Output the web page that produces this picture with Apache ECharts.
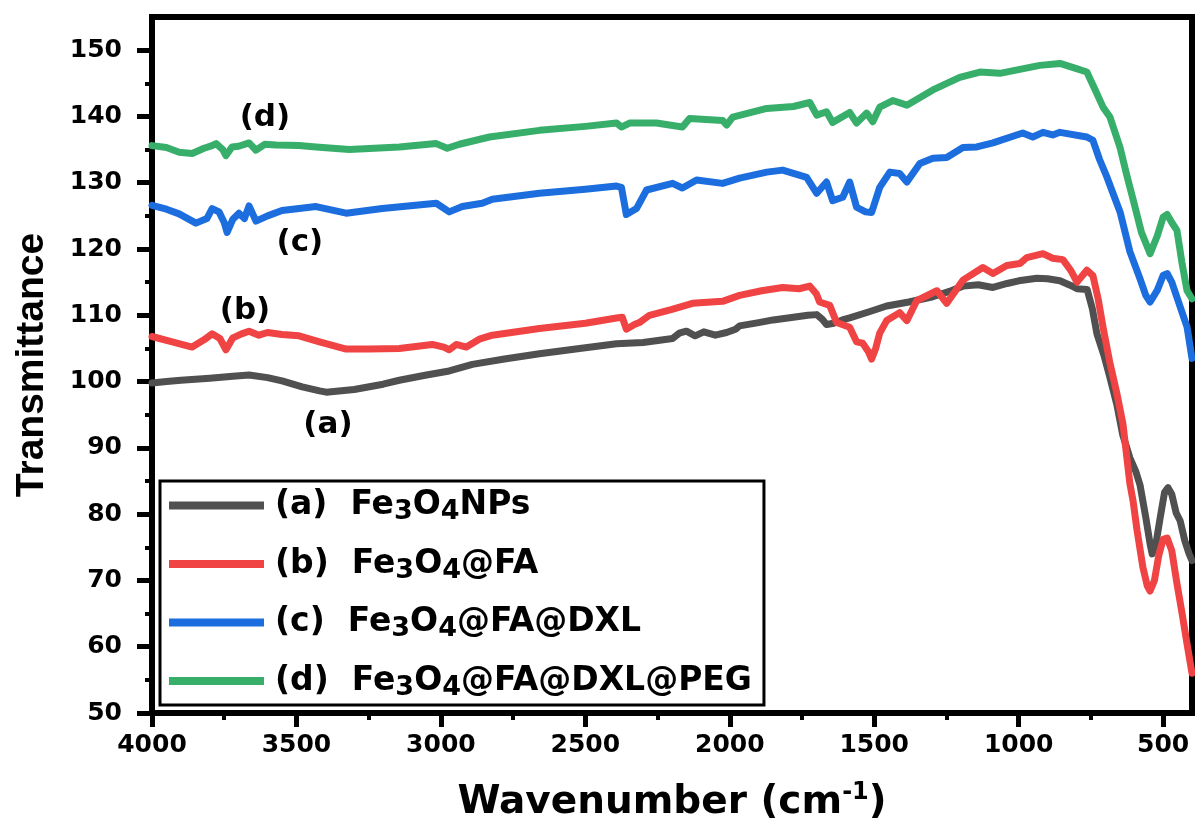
<!DOCTYPE html>
<html>
<head>
<meta charset="utf-8">
<script src="https://cdn.jsdelivr.net/npm/echarts@6/dist/echarts.min.js"></script>
<style>
  html, body { margin: 0; padding: 0; background: #fff; }
  #chart { width: 1195px; height: 831px; }
</style>
</head>
<body>
<div id="chart"></div>
<script>
// FTIR spectra: [wavenumber (cm-1), transmittance]
const fe3o4NPs = [
  [4000, 99.8], [3950, 100.0], [3900, 100.2], [3800, 100.5], [3720, 100.8], [3664, 101.0],
  [3600, 100.6], [3550, 100.1], [3480, 99.2], [3420, 98.6], [3397, 98.4], [3300, 98.8],
  [3200, 99.6], [3144, 100.2], [3050, 101.0], [2971, 101.6], [2891, 102.6], [2780, 103.4],
  [2659, 104.2], [2520, 105.0], [2392, 105.7], [2300, 105.9], [2198, 106.5], [2175, 107.3],
  [2150, 107.6], [2120, 106.9], [2090, 107.5], [2050, 107.0], [2011, 107.4], [1980, 107.9],
  [1966, 108.4], [1900, 108.9], [1850, 109.3], [1780, 109.7], [1730, 110.0], [1699, 110.1],
  [1680, 109.4], [1665, 108.6], [1640, 108.8], [1610, 109.3], [1585, 109.6], [1520, 110.5],
  [1457, 111.4], [1380, 112.0], [1297, 112.8], [1240, 113.6], [1193, 114.4], [1140, 114.6],
  [1089, 114.2], [1040, 114.8], [1000, 115.2], [937, 115.6], [900, 115.5], [857, 115.2],
  [820, 114.5], [798, 114.0], [763, 113.9], [745, 111.0], [729, 107.2], [705, 104.0],
  [684, 100.6], [660, 96.5], [640, 92.0], [615, 88.5], [595, 86.5], [580, 84.4],
  [560, 79.5], [545, 75.5], [538, 74.0], [525, 75.5], [510, 79.5], [495, 83.3],
  [483, 84.0], [470, 83.0], [455, 80.2], [441, 79.0], [425, 76.0], [410, 74.0], [400, 73.0]
];

const fe3o4FA = [
  [4000, 106.8], [3930, 106.0], [3861, 105.2], [3820, 106.3], [3792, 107.2], [3765, 106.5],
  [3744, 104.8], [3720, 106.6], [3690, 107.2], [3664, 107.6], [3630, 107.0], [3600, 107.4],
  [3550, 107.1], [3491, 106.9], [3420, 106.0], [3328, 104.9], [3250, 104.9], [3144, 105.0],
  [3030, 105.6], [2990, 105.2], [2971, 104.8], [2947, 105.6], [2912, 105.2], [2867, 106.4],
  [2822, 107.0], [2659, 108.0], [2500, 108.8], [2392, 109.6], [2372, 109.7], [2358, 107.9],
  [2330, 108.6], [2313, 108.9], [2278, 110.0], [2200, 110.9], [2129, 111.8], [2025, 112.1],
  [1966, 113.0], [1890, 113.7], [1817, 114.2], [1760, 114.0], [1723, 114.4], [1700, 113.2],
  [1689, 112.0], [1654, 111.5], [1630, 108.9], [1585, 108.2], [1561, 106.0], [1540, 105.8],
  [1520, 104.5], [1509, 103.4], [1495, 105.0], [1481, 107.3], [1457, 109.2], [1412, 110.4],
  [1387, 109.2], [1353, 112.2], [1283, 113.7], [1249, 111.8], [1193, 115.3], [1124, 117.2],
  [1089, 116.3], [1041, 117.5], [996, 117.8], [972, 118.7], [916, 119.3], [882, 118.6],
  [847, 118.4], [820, 116.8], [798, 115.0], [764, 116.8], [743, 116.0], [725, 112.5],
  [708, 108.2], [685, 103.0], [660, 98.2], [639, 93.6], [615, 84.6], [604, 82.0],
  [590, 77.5], [570, 72.0], [555, 69.2], [545, 68.4], [530, 70.0], [515, 73.8],
  [500, 76.2], [486, 76.4], [470, 74.5], [452, 69.5], [435, 65.2], [417, 60.4], [400, 56.0]
];

const fe3o4FADXL = [
  [4000, 126.6], [3950, 126.0], [3906, 125.3], [3848, 123.9], [3810, 124.6], [3792, 126.1],
  [3768, 125.6], [3750, 124.0], [3740, 122.5], [3720, 124.5], [3699, 125.4], [3680, 124.6],
  [3664, 126.5], [3640, 124.2], [3600, 125.0], [3550, 125.8], [3432, 126.4], [3328, 125.4],
  [3203, 126.1], [3016, 126.9], [2971, 125.6], [2926, 126.4], [2857, 126.9], [2822, 127.5],
  [2659, 128.4], [2500, 129.0], [2392, 129.5], [2375, 129.3], [2358, 125.2], [2323, 126.1],
  [2288, 128.9], [2198, 129.9], [2164, 129.2], [2115, 130.4], [2025, 129.9], [1966, 130.7],
  [1872, 131.6], [1817, 131.9], [1734, 130.8], [1699, 128.4], [1665, 130.1], [1644, 127.3],
  [1609, 127.8], [1585, 130.1], [1561, 126.3], [1530, 125.6], [1509, 125.5], [1481, 129.3],
  [1446, 131.6], [1412, 131.4], [1387, 130.1], [1342, 132.9], [1297, 133.7], [1249, 133.8],
  [1193, 135.3], [1145, 135.4], [1089, 136.0], [986, 137.5], [951, 136.9], [916, 137.6],
  [882, 137.2], [857, 137.6], [764, 136.9], [743, 136.4], [720, 133.5], [694, 130.8],
  [670, 128.0], [649, 125.6], [615, 119.6], [580, 115.5], [560, 113.0], [545, 112.0],
  [520, 113.8], [500, 116.0], [486, 116.3], [470, 115.0], [452, 112.7], [435, 110.5],
  [417, 108.2], [400, 103.5]
];

const fe3o4FADXLPEG = [
  [4000, 135.6], [3950, 135.3], [3906, 134.6], [3861, 134.4], [3820, 135.2], [3792, 135.6],
  [3778, 135.9], [3755, 135.0], [3744, 134.1], [3723, 135.4], [3700, 135.5], [3664, 136.0],
  [3640, 134.9], [3610, 135.8], [3570, 135.7], [3491, 135.6], [3432, 135.4], [3317, 135.0],
  [3144, 135.4], [3016, 135.9], [2978, 135.2], [2936, 135.8], [2832, 136.9], [2659, 137.9],
  [2500, 138.5], [2392, 139.0], [2375, 138.4], [2347, 139.0], [2254, 139.0], [2164, 138.4],
  [2139, 139.7], [2025, 139.4], [2011, 138.7], [1990, 139.9], [1872, 141.2], [1780, 141.5],
  [1723, 142.1], [1699, 140.2], [1665, 140.7], [1644, 139.1], [1585, 140.6], [1561, 139.0],
  [1526, 140.5], [1505, 139.2], [1481, 141.4], [1436, 142.4], [1387, 141.7], [1297, 144.0],
  [1204, 145.9], [1134, 146.7], [1065, 146.5], [927, 147.7], [857, 148.0], [800, 147.2],
  [764, 146.7], [735, 144.0], [708, 141.4], [684, 139.9], [649, 135.3], [625, 131.0],
  [604, 127.5], [575, 122.5], [545, 119.3], [520, 122.0], [500, 124.8], [486, 125.2],
  [470, 124.0], [452, 122.8], [435, 118.0], [417, 113.7], [400, 112.5]
];

const seriesNames = ['(a) Fe3O4NPs', '(b) Fe3O4@FA', '(c) Fe3O4@FA@DXL', '(d) Fe3O4@FA@DXL@PEG'];
const legendRich = [
  '{t|(a)  Fe}{s|3}{t|O}{s|4}{t|NPs}',
  '{t|(b)  Fe}{s|3}{t|O}{s|4}{t|@FA}',
  '{t|(c)  Fe}{s|3}{t|O}{s|4}{t|@FA@DXL}',
  '{t|(d)  Fe}{s|3}{t|O}{s|4}{t|@FA@DXL@PEG}'
];
const seriesColors = ['#505050', '#F04343', '#1C6EDE', '#38AE6B'];
const seriesData = [fe3o4NPs, fe3o4FA, fe3o4FADXL, fe3o4FADXLPEG];

// curve tags placed in data space: [wavenumber, transmittance]
const curveTags = [
  { text: '(a)', at: [3391, 93.4] },
  { text: '(b)', at: [3678, 110.6] },
  { text: '(c)', at: [3488, 120.9] },
  { text: '(d)', at: [3609, 139.7] }
];

const xMajorTicks = [4000, 3500, 3000, 2500, 2000, 1500, 1000, 500];
const xMinorTicks = [3750, 3250, 2750, 2250, 1750, 1250, 750];
const yMajorTicks = [50, 60, 70, 80, 90, 100, 110, 120, 130, 140, 150];
const yMinorTicks = [55, 65, 75, 85, 95, 105, 115, 125, 135, 145];

const tickFont = { fontFamily: 'DejaVu Sans', fontWeight: 'bold', fontSize: 25, color: '#000' };

const chart = echarts.init(document.getElementById('chart'), null, { renderer: 'canvas' });

const series = seriesData.map((d, i) => ({
  name: seriesNames[i],
  type: 'line',
  xAxisIndex: 0,
  yAxisIndex: 0,
  data: d,
  showSymbol: false,
  symbol: 'none',
  color: seriesColors[i],
  lineStyle: { width: 7, color: seriesColors[i], cap: 'round', join: 'round' },
  z: 2 + i,
  markPoint: {
    symbol: 'circle',
    symbolSize: 0,
    silent: true,
    label: {
      show: true,
      position: 'inside',
      formatter: curveTags[i].text,
      color: '#000',
      fontFamily: 'DejaVu Sans',
      fontWeight: 'bold',
      fontSize: 31
    },
    data: [{ coord: curveTags[i].at }]
  }
}));

chart.setOption({
  animation: false,
  backgroundColor: '#fff',
  grid: {
    left: 152, right: 3, top: 17, bottom: 118,
    show: true, borderColor: '#000', borderWidth: 6, backgroundColor: 'transparent'
  },
  legend: {
    orient: 'vertical',
    left: 160,
    top: 481,
    data: seriesNames,
    icon: 'rect',
    itemWidth: 95,
    itemHeight: 8,
    itemGap: 22,
    padding: [8, 12, 4, 9],
    borderColor: '#000',
    borderWidth: 3,
    backgroundColor: '#fff',
    selectedMode: false,
    formatter: name => legendRich[seriesNames.indexOf(name)],
    textStyle: {
      padding: [0, 0, 0, 6],
      rich: {
        t: { fontFamily: 'DejaVu Sans', fontWeight: 'bold', fontSize: 33, color: '#000', lineHeight: 40, verticalAlign: 'middle' },
        s: { fontFamily: 'DejaVu Sans', fontWeight: 'bold', fontSize: 27, color: '#000', lineHeight: 24, verticalAlign: 'bottom' }
      }
    }
  },
  xAxis: [
    {
      type: 'value', min: 400, max: 4000, inverse: true, position: 'bottom',
      name: '{t|Wavenumber (cm}{p|-1}{t|)}',
      nameLocation: 'middle', nameGap: 66,
      nameTextStyle: {
        rich: {
          t: { fontFamily: 'DejaVu Sans', fontWeight: 'bold', fontSize: 39, color: '#000', lineHeight: 48 },
          p: { fontFamily: 'DejaVu Sans', fontWeight: 'bold', fontSize: 24, color: '#000', lineHeight: 48, verticalAlign: 'top', padding: [2, 0, 0, 0] }
        }
      },
      axisLine: { show: true, lineStyle: { color: '#000', width: 6 } },
      axisTick: { show: true, inside: false, length: 14, lineStyle: { color: '#000', width: 5 }, customValues: xMajorTicks },
      axisLabel: { show: true, margin: 20, customValues: xMajorTicks, formatter: v => String(v), ...tickFont },
      splitLine: { show: false }
    },
    {
      type: 'value', min: 400, max: 4000, inverse: true, position: 'bottom',
      axisLine: { show: false },
      axisTick: { show: true, inside: false, length: 7, lineStyle: { color: '#000', width: 4 }, customValues: xMinorTicks },
      axisLabel: { show: false },
      splitLine: { show: false }
    }
  ],
  yAxis: [
    {
      type: 'value', min: 50, max: 155, position: 'left',
      name: 'Transmittance',
      nameLocation: 'middle', nameRotate: 90, nameGap: 100,
      nameTextStyle: { fontFamily: 'Liberation Sans', fontWeight: 'bold', fontSize: 39, color: '#000' },
      axisLine: { show: true, lineStyle: { color: '#000', width: 6 } },
      axisTick: { show: true, inside: false, length: 15, lineStyle: { color: '#000', width: 5 }, customValues: yMajorTicks },
      axisLabel: { show: true, margin: 30, customValues: yMajorTicks, formatter: v => String(v), ...tickFont },
      splitLine: { show: false }
    },
    {
      type: 'value', min: 50, max: 155, position: 'left',
      axisLine: { show: false },
      axisTick: { show: true, inside: false, length: 7, lineStyle: { color: '#000', width: 4 }, customValues: yMinorTicks },
      axisLabel: { show: false },
      splitLine: { show: false }
    }
  ],
  series: series
});
</script>
</body>
</html>
